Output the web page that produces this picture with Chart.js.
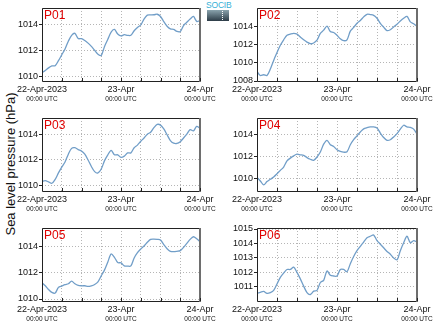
<!DOCTYPE html>
<html>
<head>
<meta charset="utf-8">
<script src="https://cdn.jsdelivr.net/npm/chart.js@4.4.0/dist/chart.umd.min.js"></script>
<style>
html, body { margin: 0; padding: 0; background: #fff; }
#fig { position: relative; width: 435px; height: 327px; overflow: hidden; font-family: "Liberation Sans", Arial, sans-serif; }
#fig canvas { position: absolute; }
#ytitle { position: absolute; left: 10px; top: 164px; transform: translate(-50%, -50%) rotate(-90deg); font-size: 13px; white-space: nowrap; color: #111; }
#logo-text { position: absolute; left: 206px; top: 1px; width: 24px; text-align: center; font-size: 8.5px; line-height: 9px; letter-spacing: -0.2px; color: #36b0d6; }
#logo-box { position: absolute; left: 207px; top: 10px; width: 22px; height: 11px; background: linear-gradient(#8aa3ad, #2c3c47); }
#logo-box div { position: absolute; left: 15px; top: 1px; height: 9px; border-left: 1px dotted #fff; }
</style>
</head>
<body>
<div id="fig">
  <div id="ytitle">Sea level pressure (hPa)</div>
  <div id="logo-text">SOCIB</div>
  <div id="logo-box"><div></div></div>
  <canvas id="p01" width="202" height="110" style="left:16px;top:0px"></canvas>
  <canvas id="p02" width="217" height="110" style="left:218px;top:0px"></canvas>
  <canvas id="p03" width="202" height="110" style="left:16px;top:110px"></canvas>
  <canvas id="p04" width="217" height="110" style="left:218px;top:110px"></canvas>
  <canvas id="p05" width="202" height="110" style="left:16px;top:220px"></canvas>
  <canvas id="p06" width="217" height="110" style="left:218px;top:220px"></canvas>
</div>
<script>
// Hours since 22-Apr-2023 00:00 UTC (hourly samples)
const hours = [0,1,2,3,4,5,6,7,8,9,10,11,12,13,14,15,16,17,18,19,20,21,22,23,24,
               25,26,27,28,29,30,31,32,33,34,35,36,37,38,39,40,41,42,43,44,45,46,47,48];

// Day labels on the time axis (hour -> label)
const dayTicks = [0, 24, 48];
const dayLabels = ['22-Apr-2023', '23-Apr', '24-Apr'];
const timeLabel = '00:00 UTC';

// Sea level pressure (hPa) per station
const p01 = [1010.28,1010.45,1010.65,1010.8,1010.82,1011.2,1011.65,1012.1,1012.7,1013.15,1013.3,1012.9,1012.9,
             1012.75,1012.55,1012.3,1012.0,1011.7,1011.6,1012.3,1012.85,1013.4,1013.6,1013.25,1013.1,
             1013.2,1013.15,1013.15,1013.5,1013.75,1013.95,1014.4,1014.7,1014.72,1014.73,1014.77,1014.6,
             1014.2,1013.85,1013.65,1013.6,1013.45,1013.45,1013.9,1014.15,1014.4,1014.6,1014.22,1014.28];
const p02 = [1009.05,1008.6,1008.68,1008.6,1009.3,1010.25,1011.1,1011.9,1012.5,1013.0,1013.12,1013.2,1013.12,
             1012.8,1012.5,1012.25,1012.07,1012.15,1012.45,1013.2,1013.55,1014.0,1013.4,1013.3,1013.0,
             1012.6,1012.4,1012.5,1013.45,1013.85,1014.3,1014.6,1015.0,1015.28,1015.25,1015.17,1014.85,
             1014.3,1013.88,1013.5,1013.6,1013.9,1014.2,1014.55,1014.85,1015.05,1014.45,1014.25,1013.96];
const p03 = [1010.34,1010.4,1010.3,1010.2,1010.5,1011.0,1011.45,1011.85,1012.45,1012.9,1012.95,1012.8,1012.7,
             1012.45,1012.0,1011.5,1011.1,1011.0,1011.3,1011.95,1012.4,1012.75,1012.4,1012.4,1012.2,
             1012.3,1012.55,1012.55,1012.95,1013.15,1013.45,1013.7,1014.0,1014.15,1014.5,1014.75,1014.7,
             1014.4,1013.95,1013.5,1013.3,1013.28,1013.42,1013.7,1014.0,1014.35,1014.25,1014.6,1014.45];
const p04 = [1010.12,1009.8,1009.45,1009.75,1009.95,1010.15,1010.45,1010.75,1011.05,1011.6,1011.85,1012.05,1012.2,
             1012.15,1012.1,1011.9,1011.75,1011.65,1011.95,1012.4,1013.1,1013.45,1013.05,1012.9,1012.6,
             1012.45,1012.38,1012.42,1013.05,1013.5,1013.85,1014.2,1014.47,1014.58,1014.65,1014.65,1014.55,
             1014.1,1013.7,1013.45,1013.5,1013.75,1014.05,1014.45,1014.8,1014.65,1014.6,1014.45,1014.0];
const p05 = [1011.23,1011.0,1010.72,1010.5,1010.45,1010.88,1010.98,1011.08,1011.15,1011.35,1011.15,1011.03,1011.0,
             1011.0,1010.95,1011.0,1011.1,1011.3,1011.75,1012.2,1012.8,1013.4,1013.15,1012.75,1012.73,
             1012.5,1012.48,1012.5,1013.1,1013.5,1013.78,1014.0,1014.28,1014.5,1014.52,1014.5,1014.45,
             1014.1,1013.8,1013.6,1013.57,1013.6,1013.65,1013.9,1014.2,1014.5,1014.7,1014.55,1014.33];
const p06 = [1010.56,1010.62,1010.68,1010.55,1010.6,1010.75,1011.2,1011.65,1011.95,1012.2,1012.2,1012.36,1012.0,
             1011.55,1011.05,1010.6,1010.47,1010.7,1010.75,1011.3,1011.45,1012.1,1011.8,1011.75,1011.75,
             1012.2,1012.2,1012.05,1012.6,1013.1,1013.5,1013.8,1014.1,1014.4,1014.5,1014.58,1014.2,
             1013.95,1013.7,1013.45,1013.25,1013.0,1012.87,1013.5,1014.05,1014.5,1014.05,1014.2,1014.1];

const FONT = '"Liberation Sans", Arial, sans-serif';
const LINE_COLOR = '#719ec8';

// Frame, station name, inner ticks and two-line date labels
const panelDeco = {
  id: 'panelDeco',
  afterDraw(chart, args, opts) {
    const { ctx, chartArea: a, scales: { x } } = chart;
    ctx.save();
    ctx.setLineDash([]);
    // frame: thin dark left/top/bottom, heavier grey right edge
    ctx.strokeStyle = '#222';
    ctx.lineWidth = 1;
    ctx.beginPath();
    ctx.moveTo(Math.round(a.right), Math.round(a.top) + 0.5);
    ctx.lineTo(Math.round(a.left) + 0.5, Math.round(a.top) + 0.5);
    ctx.lineTo(Math.round(a.left) + 0.5, Math.round(a.bottom) + 0.5);
    ctx.lineTo(Math.round(a.right), Math.round(a.bottom) + 0.5);
    ctx.stroke();
    ctx.fillStyle = '#6e6e6e';
    ctx.fillRect(Math.round(a.right) - 1, Math.round(a.top), 2, Math.round(a.bottom - a.top) + 1);
    // small inward ticks every 6 h on the bottom axis
    ctx.strokeStyle = '#222';
    x.ticks.forEach(t => {
      const px = Math.round(x.getPixelForValue(t.value)) + 0.5;
      ctx.beginPath();
      ctx.moveTo(px, Math.round(a.bottom));
      ctx.lineTo(px, Math.round(a.bottom) - 3);
      ctx.stroke();
    });
    // station name
    ctx.fillStyle = '#e00000';
    ctx.font = '12px ' + FONT;
    ctx.textAlign = 'left';
    ctx.textBaseline = 'top';
    ctx.fillText(opts.name, a.left + 2, a.top + 1.5);
    // date labels
    ctx.fillStyle = '#111';
    ctx.textAlign = 'center';
    ctx.textBaseline = 'middle';
    dayTicks.forEach((h, i) => {
      const px = x.getPixelForValue(h);
      ctx.font = '9px ' + FONT;
      ctx.fillText(dayLabels[i], px, a.bottom + 8.5);
      ctx.font = '6.5px ' + FONT;
      ctx.fillText(timeLabel, px, a.bottom + 18.5);
    });
    ctx.restore();
  }
};

function makePanel(id, name, values, yMin, yMax, yStep, axisWidth) {
  new Chart(document.getElementById(id), {
    type: 'line',
    data: {
      datasets: [{
        data: hours.map((h, i) => ({ x: h, y: values[i] })),
        borderColor: LINE_COLOR,
        borderWidth: 1.3,
        pointRadius: 0,
        tension: 0.3,
        fill: false
      }]
    },
    options: {
      responsive: false,
      animation: false,
      layout: { padding: { top: 8, right: 18, left: 0, bottom: 0 } },
      plugins: {
        legend: { display: false },
        tooltip: { enabled: false },
        panelDeco: { name: name }
      },
      scales: {
        x: {
          type: 'linear',
          min: 0,
          max: 48,
          ticks: { stepSize: 6, display: false },
          grid: { color: '#b5b5b5', lineWidth: 1, drawTicks: false },
          border: { display: false, dash: [1, 2] },
          afterFit(s) { s.height = 29; s.paddingLeft = 0; s.paddingRight = 0; }
        },
        y: {
          type: 'linear',
          min: yMin,
          max: yMax,
          ticks: {
            stepSize: yStep,
            includeBounds: false,
            color: '#111',
            font: { family: FONT, size: 9 },
            padding: 1,
            callback: v => String(Math.round(v))
          },
          grid: { color: '#b5b5b5', lineWidth: 1, tickLength: 3, tickColor: '#222' },
          border: { display: false, dash: [1, 2] },
          afterFit(s) { s.width = axisWidth; s.paddingTop = 0; s.paddingBottom = 0; }
        }
      }
    },
    plugins: [panelDeco]
  });
}

makePanel('p01', 'P01', p01, 1009.64, 1015.25, 2, 26);
makePanel('p02', 'P02', p02, 1008.0, 1015.97, 2, 39);
makePanel('p03', 'P03', p03, 1009.6, 1015.25, 2, 26);
makePanel('p04', 'P04', p04, 1008.9, 1015.45, 2, 39);
makePanel('p05', 'P05', p05, 1009.85, 1015.36, 2, 26);
makePanel('p06', 'P06', p06, 1010.02, 1015.07, 1, 39);
</script>
</body>
</html>
